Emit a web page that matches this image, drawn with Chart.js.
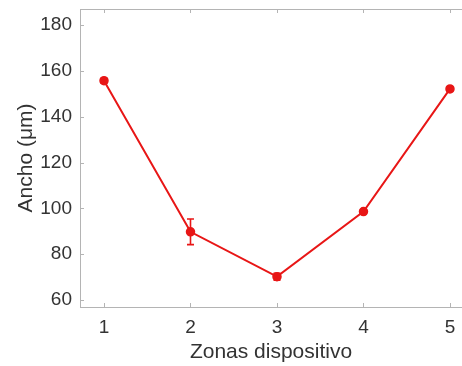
<!DOCTYPE html>
<html>
<head>
<meta charset="utf-8">
<script src="https://cdn.jsdelivr.net/npm/chart.js@4.4.1/dist/chart.umd.min.js"></script>
<style>
  html, body { margin: 0; padding: 0; background: #fff; }
  #wrap { width: 462px; height: 366px; }
</style>
</head>
<body>
<div id="wrap"><canvas id="c" width="462" height="366"></canvas></div>
<script>
// ---- data ----
const zonas = [1, 2, 3, 4, 5];
const ancho = [155.8, 89.8, 70.2, 98.6, 152.2];
const errorAncho = [1.0, 5.6, 1.5, 0.6, 0.8];
const yTicks = [60, 80, 100, 120, 140, 160, 180];
const xTitle = 'Zonas dispositivo';
const yTitle = 'Ancho (μm)';

const RED = 'rgb(232,22,22)';
const AXIS = '#b4b4b4';
const TXT = '#333333';

const errorBars = {
  id: 'errorBars',
  afterDatasetsDraw(chart) {
    const ctx = chart.ctx;
    const xs = chart.scales.x, ys = chart.scales.y;
    ctx.save();
    ctx.strokeStyle = RED;
    ctx.lineWidth = 1.6;
    zonas.forEach((z, i) => {
      const px = xs.getPixelForValue(z);
      const top = ys.getPixelForValue(ancho[i] + errorAncho[i]);
      const bot = ys.getPixelForValue(ancho[i] - errorAncho[i]);
      ctx.beginPath();
      ctx.moveTo(px, top); ctx.lineTo(px, bot);
      ctx.moveTo(px - 3.5, top); ctx.lineTo(px + 3.5, top);
      ctx.moveTo(px - 3.5, bot); ctx.lineTo(px + 3.5, bot);
      ctx.stroke();
    });
    ctx.restore();
  }
};

const boxPlugin = {
  id: 'boxPlugin',
  beforeDatasetsDraw(chart) {
    const ctx = chart.ctx;
    const a = chart.chartArea;
    const xs = chart.scales.x, ys = chart.scales.y;
    ctx.save();
    ctx.strokeStyle = AXIS;
    ctx.lineWidth = 1;
    ctx.beginPath();
    ctx.moveTo(a.left, a.top + 0.5); ctx.lineTo(a.right + 5, a.top + 0.5);
    const tl = 4;
    zonas.forEach(z => {
      const px = Math.round(xs.getPixelForValue(z)) + 0.5;
      ctx.moveTo(px, a.bottom); ctx.lineTo(px, a.bottom - tl);
      ctx.moveTo(px, a.top); ctx.lineTo(px, a.top + tl);
    });
    yTicks.forEach(v => {
      const py = Math.round(ys.getPixelForValue(v)) + 0.5;
      ctx.moveTo(a.left, py); ctx.lineTo(a.left + tl, py);
    });
    ctx.stroke();
    ctx.restore();
  }
};

new Chart(document.getElementById('c'), {
  type: 'line',
  data: {
    datasets: [{
      data: zonas.map((z, i) => ({ x: z, y: ancho[i] })),
      borderColor: RED,
      backgroundColor: RED,
      borderWidth: 2,
      pointRadius: 4,
      pointBorderWidth: 1.5,
      pointBackgroundColor: RED,
      pointBorderColor: RED,
      tension: 0,
      clip: false
    }]
  },
  options: {
    responsive: false,
    animation: false,
    devicePixelRatio: 1,
    layout: { autoPadding: false, padding: { top: 9, right: 0, bottom: 0, left: 0 } },
    plugins: { legend: { display: false }, tooltip: { enabled: false } },
    scales: {
      x: {
        type: 'linear',
        min: 0.7225,
        max: 5.139,
        afterBuildTicks: s => { s.ticks = zonas.map(v => ({ value: v })); },
        afterFit: s => { s.height = 59; s.paddingLeft = 0; s.paddingRight = 0; },
        grid: { display: false, drawTicks: false },
        border: { display: true, color: AXIS, width: 1 },
        ticks: {
          padding: 9,
          color: TXT,
          font: { family: 'Liberation Sans, Arial, sans-serif', size: 19 },
          maxRotation: 0,
          callback: v => String(v)
        },
        title: {
          display: true,
          text: xTitle,
          color: TXT,
          font: { family: 'Liberation Sans, Arial, sans-serif', size: 21, lineHeight: 1 },
          padding: { top: 0, bottom: 3 }
        }
      },
      y: {
        type: 'linear',
        min: 56.94,
        max: 187.1,
        afterBuildTicks: s => { s.ticks = yTicks.map(v => ({ value: v })); },
        afterFit: s => { s.width = 80; s.paddingTop = 0; s.paddingBottom = 0; },
        grid: { display: false, drawTicks: false },
        border: { display: true, color: AXIS, width: 1 },
        ticks: {
          padding: 8,
          color: TXT,
          font: { family: 'Liberation Sans, Arial, sans-serif', size: 19 },
          callback: v => String(v)
        },
        title: {
          display: true,
          text: yTitle,
          color: TXT,
          font: { family: 'Liberation Sans, Arial, sans-serif', size: 21, lineHeight: 1 },
          padding: { top: 16, bottom: 0 }
        }
      }
    }
  },
  plugins: [boxPlugin, errorBars]
});
</script>
</body>
</html>
